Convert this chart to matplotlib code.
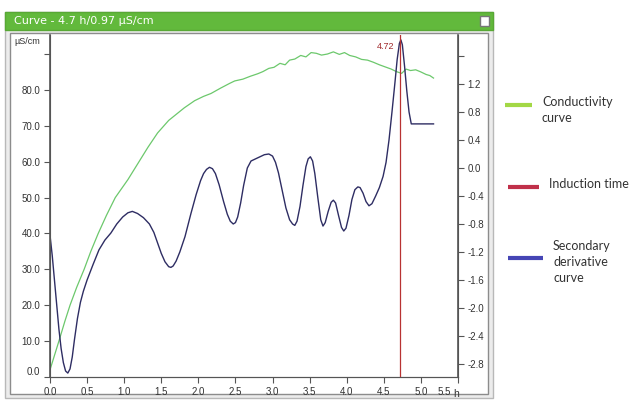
import matplotlib.pyplot as plt
from matplotlib.patches import Rectangle
from matplotlib.lines import Line2D
from matplotlib.transforms import ScaledTranslation

# conductivity curve (h, uS/cm), left axis
cond_t = [0.00, 0.06, 0.12, 0.20, 0.27, 0.36, 0.46, 0.55, 0.65, 0.76, 0.88,
          1.05, 1.20, 1.32, 1.45, 1.60, 1.72, 1.81, 1.95, 2.07, 2.17, 2.30,
          2.42, 2.49, 2.60, 2.70, 2.80, 2.87, 2.95, 3.02, 3.10, 3.17, 3.23,
          3.30, 3.38, 3.45, 3.52, 3.59, 3.66, 3.74, 3.82, 3.90, 3.97, 4.04,
          4.12, 4.20, 4.28, 4.36, 4.44, 4.52, 4.60, 4.67, 4.74, 4.80, 4.86,
          4.93, 5.00, 5.07, 5.12, 5.17]
cond_val = [2.0, 6.0, 10.0, 15.5, 20.0, 25.0, 30.0, 35.0, 40.0, 45.0, 50.0,
            55.0, 60.0, 64.0, 68.0, 71.5, 73.5, 75.0, 77.0, 78.2, 79.0, 80.5,
            81.8, 82.5, 83.0, 83.8, 84.5, 85.1, 86.0, 86.3, 87.4, 87.0, 88.3,
            88.6, 89.6, 89.2, 90.4, 90.2, 89.7, 90.0, 90.6, 89.9, 90.4, 89.6,
            89.2, 88.5, 88.3, 87.7, 87.0, 86.4, 85.8, 85.1, 84.6, 85.8, 85.4,
            85.6, 85.0, 84.3, 84.0, 83.3]

# secondary derivative curve (h, value), right axis
deriv_t = [0.00, 0.03, 0.06, 0.09, 0.12, 0.15, 0.18, 0.21, 0.24, 0.27, 0.30,
           0.33, 0.37, 0.41, 0.45, 0.50, 0.58, 0.66, 0.74, 0.82, 0.90, 0.98,
           1.05, 1.11, 1.18, 1.26, 1.34, 1.40, 1.45, 1.50, 1.55, 1.60, 1.63,
           1.66, 1.70, 1.75, 1.82, 1.90, 1.97, 2.03, 2.07, 2.11, 2.15, 2.19,
           2.23, 2.28, 2.34, 2.39, 2.43, 2.47, 2.50, 2.53, 2.57, 2.61, 2.66,
           2.71, 2.77, 2.83, 2.89, 2.95, 3.00, 3.04, 3.08, 3.13, 3.18, 3.23,
           3.27, 3.30, 3.33, 3.37, 3.41, 3.45, 3.48, 3.51, 3.54, 3.57, 3.61,
           3.65, 3.68, 3.71, 3.75, 3.79, 3.82, 3.85, 3.89, 3.93, 3.96, 3.99,
           4.03, 4.07, 4.11, 4.15, 4.18, 4.22, 4.26, 4.30, 4.34, 4.39, 4.44,
           4.49, 4.53, 4.57, 4.61, 4.65, 4.68, 4.71, 4.73, 4.75, 4.78, 4.81,
           4.84, 4.87, 5.17]
deriv_val = [-0.96, -1.25, -1.60, -1.95, -2.30, -2.58, -2.78, -2.90, -2.93, -2.87, -2.70,
             -2.45, -2.15, -1.92, -1.76, -1.60, -1.38, -1.17, -1.03, -0.93, -0.80, -0.70,
             -0.64, -0.62, -0.65, -0.71, -0.80, -0.92, -1.07, -1.22, -1.34, -1.41, -1.42,
             -1.40, -1.33, -1.20, -0.98, -0.65, -0.38, -0.18, -0.08, -0.02, 0.01, -0.01,
             -0.08, -0.24, -0.48, -0.66, -0.76, -0.80, -0.78, -0.70, -0.50, -0.25, 0.00,
             0.10, 0.13, 0.16, 0.19, 0.20, 0.17, 0.08, -0.07, -0.32, -0.57, -0.74,
             -0.80, -0.82, -0.76, -0.55, -0.25, 0.02, 0.13, 0.16, 0.10, -0.08, -0.42,
             -0.74, -0.83, -0.78, -0.62, -0.49, -0.46, -0.50, -0.68, -0.85, -0.90, -0.86,
             -0.68, -0.45, -0.31, -0.27, -0.28, -0.36, -0.48, -0.54, -0.51, -0.40, -0.28,
             -0.12, 0.08, 0.40, 0.80, 1.22, 1.55, 1.78, 1.83, 1.76, 1.45, 1.10,
             0.80, 0.63, 0.63]

induction_time = 4.72

x_ticks = [0.0, 0.5, 1.0, 1.5, 2.0, 2.5, 3.0, 3.5, 4.0, 4.5, 5.0, 5.5]
left_ticks = [0, 10, 20, 30, 40, 50, 60, 70, 80, 90]
right_ticks = [-2.8, -2.4, -2.0, -1.6, -1.2, -0.8, -0.4, 0.0, 0.4, 0.8, 1.2, 1.6]

W, H = 638, 405


def fx(px):
    return px / W


def fy(py):
    return 1 - py / H


fig = plt.figure(figsize=(W / 100, H / 100), dpi=100)

# window frame
frame = [
    ((5, 398), 488, 386, "#ececec", "#b8b8b8"),
    ((10, 394), 478, 361, "white", "#8c8c8c"),
    ((5, 30), 488, 18, "#62b93c", "#58a835"),
    ((480, 26), 9, 10, "white", "#777777"),
]
for (px, py), w, h, fc, ec in frame:
    fig.add_artist(Rectangle((fx(px), fy(py)), w / W, h / H, transform=fig.transFigure,
                             facecolor=fc, edgecolor=ec, lw=1, zorder=-10))
fig.text(fx(14), fy(21), "Curve - 4.7 h/0.97 µS/cm", color="white", fontsize=8,
         va="center", ha="left", family="DejaVu Sans")

ax = fig.add_axes([fx(50), fy(377), fx(408), 342 / H])
ax.set_facecolor("none")
ax.plot(cond_t, cond_val, color="#6cc86c", lw=0.9)
ax.set_xlim(0, 5.5)
ax.set_ylim(0, 95.3)
ax.set_xticks(x_ticks)
ax.set_xticklabels(["%.1f" % t for t in x_ticks])
ax.set_yticks(left_ticks)
ax.set_yticklabels(["%.1f" % v for v in left_ticks[:-1]] + [""])

ax2 = ax.twinx()
ax2.set_facecolor("none")
ax2.plot(deriv_t, deriv_val, color="#2e2d63", lw=1.0)
ax2.set_ylim(-2.986, 1.9)
ax2.set_yticks(right_ticks)
ax2.set_yticklabels(["%.1f" % v for v in right_ticks[:-1]] + [""])

ax2.axvline(induction_time, color="#b83232", lw=0.9, zorder=5)
ax2.annotate("%.2f" % induction_time, xy=(induction_time, 1.9), xytext=(-4, -8),
             textcoords="offset points", ha="right", va="center",
             color="#a0282a", fontsize=6.5, family="Liberation Sans")

for a in (ax, ax2):
    for s in a.spines.values():
        s.set_color("#555555")
    a.spines["top"].set_visible(False)
    a.tick_params(colors="#555555", labelcolor="#333333", labelsize=7, length=4,
                  width=0.8, pad=3)
    for lbl in a.get_xticklabels() + a.get_yticklabels():
        lbl.set_family("Liberation Sans")
ax.spines["left"].set_linewidth(1.2)
ax2.spines["right"].set_linewidth(1.2)

ax.yaxis.get_major_ticks()[0].label1.set_va("bottom")
last = ax.xaxis.get_major_ticks()[-1].label1
last.set_ha("right")
last.set_transform(last.get_transform() + ScaledTranslation(-5 / 72, 0, fig.dpi_scale_trans))

fig.text(fx(14), fy(42), "µS/cm", fontsize=6.5, color="#333333", va="center",
         family="Liberation Sans")
fig.text(fx(453), fy(394), "h", fontsize=7.5, color="#333333", va="center",
         family="Liberation Sans")

# legend on the right
legend_items = [
    ("#a3d845", 505, 532, 105, 542, 110, "Conductivity\ncurve"),
    ("#c0304a", 508, 539, 187, 549, 184, "Induction time"),
    ("#4545b5", 508, 543, 258, 553, 262, "Secondary\nderivative\ncurve"),
]
for col, x0, x1, yb, xt, yt, txt in legend_items:
    fig.add_artist(Line2D([fx(x0), fx(x1)], [fy(yb), fy(yb)], transform=fig.transFigure,
                          color=col, lw=3, solid_capstyle="butt"))
    fig.text(fx(xt), fy(yt), txt, fontsize=9, color="#333333", va="center", ha="left",
             linespacing=1.4, family="Lato")

fig.savefig("out.png", dpi=100)
